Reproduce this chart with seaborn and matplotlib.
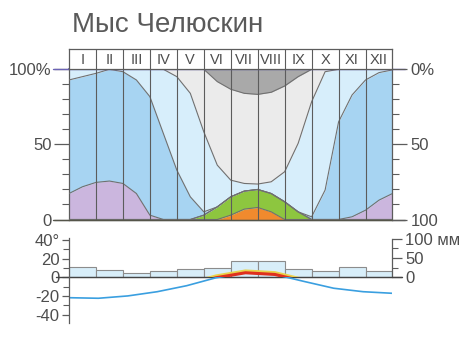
import numpy as np
import pandas as pd
import matplotlib
matplotlib.use('Agg')
import matplotlib.pyplot as plt
from matplotlib.patches import Rectangle
import matplotlib.patheffects as pe
import seaborn as sns

sns.set_theme(style='white')
plt.rcParams['font.family'] = ['Liberation Sans', 'DejaVu Sans']

# ---------------- data ----------------
months = ['I', 'II', 'III', 'IV', 'V', 'VI', 'VII', 'VIII', 'IX', 'X', 'XI', 'XII']

# upper boundaries (cumulative %, read every half month from Jan 1 to Dec 31)
half_month = np.arange(0, 12.5, 0.5)
orange_top = [0, 0, 0, 0, 0, 0, 0, 0, 0, 0, 0, 0,
              2.9, 6.9, 8.0, 5.1, 0, 0, 0, 0, 0, 0, 0, 0, 0]
green_top = [0, 0, 0, 0, 0, 0, 0, 0, 0, 0, 2.9, 8.4,
             15.1, 18.9, 20.0, 17.3, 11.8, 5.1, 0, 0, 0, 0, 0, 0, 0]
purple_top = [17.3, 21.8, 24.7, 25.6, 24.0, 17.3, 2.9, 0, 0, 0, 2.9, 8.4,
              15.1, 18.9, 20.0, 17.3, 11.8, 5.1, 0, 0, 0, 1.8, 6.2, 12.9, 17.3]
blue_top = [92.9, 95.1, 97.3, 100, 98.4, 92.9, 81.8, 57.3, 32.9, 15.1, 5.1, 8.4,
            15.1, 18.9, 20.0, 17.3, 11.8, 5.1, 1.8, 19.6, 65.0, 82.9, 92.9, 97.8, 99.6]
lightblue_top = [100, 100, 100, 100, 100, 100, 100, 100, 95.1, 84.0, 58.4, 36.2,
                 26.2, 24.0, 23.6, 25.1, 31.8, 50.7, 78.4, 98.4, 100, 100, 100, 100, 100]
lightgray_top = [100, 100, 100, 100, 100, 100, 100, 100, 100, 100, 100, 91.8,
                 86.7, 84.0, 83.3, 84.7, 88.9, 95.1, 100, 100, 100, 100, 100, 100, 100]

temperature = [-21.8, -22.4, -19.9, -15.4, -9.0, -0.5, 4.8, 3.0, -4.5, -11.7, -15.4, -17.1]
precip = [26, 19, 12, 17, 22, 25, 41, 41, 22, 17, 28, 17]

pct_ticks = [0, 50, 100]
pct_left_labels = ['0', '50', '100%']
pct_right_labels = ['0%', '50', '100']
temp_ticks = [-40, -20, 0, 20, 40]
temp_labels = ['-40', '-20', '0', '20', '40°']
mm_ticks = [0, 50, 100]
mm_labels = ['0', '50', '100 мм']

# ---------------- styling ----------------
W, H = 471, 338
TXT = '#4d4d4d'
LINE = '#5c5c5c'
C_ORANGE = '#f08a2e'
C_GREEN = '#8dc63f'
C_PURPLE = '#cbb6de'
C_BLUE = '#a7d4f2'
C_LBLUE = '#d7eefb'
C_LGRAY = '#ebebeb'
C_DGRAY = '#a9a9a9'


def rect(x0, y0, x1, y1):
    return [x0 / W, 1 - y1 / H, (x1 - x0) / W, (y1 - y0) / H]


fig = plt.figure(figsize=(W / 100, H / 100), dpi=100)
fig.text(72 / W, 1 - 32 / H, 'Мыс Челюскин', fontsize=20, color='#5a5a5a',
         va='baseline', ha='left')

# ---------------- top panel ----------------
ax = fig.add_axes(rect(69, 69.3, 392.5, 219.5))
x = np.asarray(half_month)
zeros = np.zeros_like(x)
hundred = np.full_like(x, 100.0)
bounds = [zeros, np.array(orange_top), np.array(green_top), np.array(purple_top),
          np.array(blue_top), np.array(lightblue_top), np.array(lightgray_top), hundred]
colors = [C_ORANGE, C_GREEN, C_PURPLE, C_BLUE, C_LBLUE, C_LGRAY, C_DGRAY]
for lo, hi, c in zip(bounds[:-1], bounds[1:], colors):
    ax.fill_between(x, lo, hi, color=c, lw=0, zorder=1)
for curve in bounds[1:-1]:
    sns.lineplot(x=x, y=curve, ax=ax, color='#707070', lw=0.8, zorder=3)
for k in range(1, 12):
    ax.axvline(k, color=LINE, lw=0.8, zorder=4)

ax.set_xlim(0, 12)
ax.set_ylim(0, 100)
ax.set_xticks([])
ax.set_xlabel('')
ax.set_ylabel('')
ax.set_yticks(pct_ticks, pct_left_labels)
ax.set_yticks(np.arange(0, 101, 10), minor=True)
ax.tick_params(axis='y', which='major', left=True, length=11, width=0.9, color=LINE,
               labelsize=12, labelcolor=TXT, pad=1.5)
ax.tick_params(axis='y', which='minor', left=True, length=5, width=0.8, color=LINE)
for s in ['left', 'right', 'bottom']:
    ax.spines[s].set_color(LINE)
    ax.spines[s].set_linewidth(0.9)
ax.spines['top'].set_color('#6b63b5')
ax.axhline(100, xmin=-0.05, xmax=1.04, clip_on=False, color='#6b63b5', lw=1, zorder=6)
ax.axhline(0, xmin=-0.05, xmax=1.04, clip_on=False, color='#55554a', lw=1, zorder=6)

axr = ax.twinx()
axr.set_ylim(100, 0)
axr.set_yticks(pct_ticks, pct_right_labels)
axr.set_yticks(np.arange(0, 101, 10), minor=True)
axr.tick_params(axis='y', which='major', right=True, length=11, width=0.9, color=LINE,
                labelsize=12, labelcolor=TXT, pad=2)
axr.tick_params(axis='y', which='minor', right=True, length=5, width=0.8, color=LINE)
for s in axr.spines.values():
    s.set_visible(False)

# header with month names
axh = fig.add_axes(rect(69, 49.3, 392.5, 69.3))
axh.set_xlim(0, 12)
axh.set_ylim(0, 1)
axh.set_xticks([])
axh.set_yticks([])
for s in axh.spines.values():
    s.set_color(LINE)
    s.set_linewidth(0.9)
for k in range(1, 12):
    axh.axvline(k, color=LINE, lw=0.8)
for i, m in enumerate(months):
    axh.text(i + 0.5, 0.45, m, ha='center', va='center', fontsize=10.5, color=TXT)

# ---------------- bottom panel ----------------
brect = rect(69, 237.9, 392.5, 323.2)
ax_p = fig.add_axes(brect)
ax_t = fig.add_axes(brect)

sns.barplot(x=months, y=precip, ax=ax_p, color='#d8eef9', edgecolor='#8c8c8c',
            linewidth=0.8, width=1, saturation=1)
ax_p.set_xlim(-0.5, 11.5)
ax_p.set_ylim(-119.3, 102.3)
ax_p.set_xticks([])
ax_p.set_xlabel('')
ax_p.set_ylabel('')
ax_p.yaxis.tick_right()
ax_p.set_yticks(mm_ticks, mm_labels)
ax_p.set_yticks([25, 75], minor=True)
ax_p.tick_params(axis='y', which='major', right=True, left=False, length=7, width=0.9,
                 color=LINE, labelsize=12, labelcolor=TXT, pad=2)
ax_p.tick_params(axis='y', which='minor', right=True, left=False, length=4, width=0.8,
                 color=LINE)
for s in ['left', 'top', 'bottom']:
    ax_p.spines[s].set_visible(False)
ax_p.spines['right'].set_bounds(0, 100)
ax_p.spines['right'].set_color(LINE)
ax_p.spines['right'].set_linewidth(0.9)

ax_t.patch.set_visible(False)
ax_t.set_xlim(-0.5, 11.5)
ax_t.set_ylim(-49, 42)
ax_t.set_xticks([])
temp_pos = np.linspace(-0.5, 11.5, len(temperature))
sns.lineplot(x=temp_pos, y=temperature, ax=ax_t, color='#3a9fe0', lw=1.2)
sns.lineplot(x=temp_pos, y=temperature, ax=ax_t, color='#e0301e', lw=2.2)
warm = ax_t.lines[-1]
warm.set_clip_path(Rectangle((-0.5, 0), 12, 42, transform=ax_t.transData))
warm.set_path_effects([pe.SimpleLineShadow(offset=(0, 1.3), shadow_color='#e9d24a',
                                           alpha=1.0, rho=1.0), pe.Normal()])
ax_t.axhline(0, xmin=-0.04, xmax=1.03, clip_on=False, color='#444444', lw=1, zorder=1)
ax_t.set_xlabel('')
ax_t.set_ylabel('')
ax_t.set_yticks(temp_ticks, temp_labels)
ax_t.set_yticks(np.arange(-40, 41, 10), minor=True)
ax_t.tick_params(axis='y', which='major', left=True, length=5, width=0.9, color=LINE,
                 labelsize=12, labelcolor=TXT, pad=2)
ax_t.tick_params(axis='y', which='minor', left=True, length=4, width=0.8, color=LINE)
for s in ['right', 'top', 'bottom']:
    ax_t.spines[s].set_visible(False)
ax_t.spines['left'].set_color(LINE)
ax_t.spines['left'].set_linewidth(0.9)

fig.savefig('out.png', dpi=100)
